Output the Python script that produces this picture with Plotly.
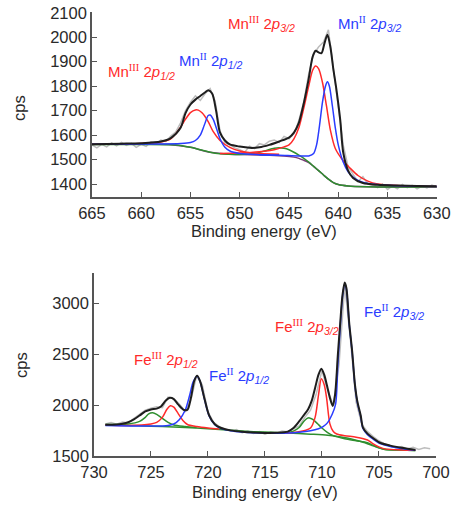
import plotly.graph_objects as go

# ---------------- Mn 2p region ----------------
mn_raw_e = [665, 664.5, 664, 663.5, 663, 662.5, 662, 661.5, 661, 660.5, 660, 659.5, 659, 658.5,
            658, 657.5, 657, 656.5, 656, 655.5, 655, 654.5, 654, 653.5, 653, 652.5, 652, 651.5,
            651, 650.5, 650, 649.5, 649, 648.5, 648, 647.5, 647, 646.5, 646, 645.5, 645, 644.5,
            644, 643.5, 643, 642.5, 642, 641.5, 641, 640.5, 640, 639.5, 639, 638.5, 638, 637.5,
            637, 636.5, 636, 635.5, 635, 634.5, 634, 633.5, 633, 632.5, 632, 631.5, 631, 630.5, 630]
mn_raw_cps = [1560, 1548, 1562, 1552, 1568, 1556, 1570, 1558, 1566, 1550, 1562, 1554, 1572, 1565,
              1580, 1574, 1596, 1612, 1650, 1700, 1735, 1760, 1742, 1770, 1790, 1740, 1618, 1570,
              1560, 1548, 1540, 1530, 1555, 1545, 1565, 1560, 1575, 1580, 1570, 1595, 1585, 1605,
              1660, 1735, 1850, 1930, 1960, 1980, 2030, 1870, 1720, 1560, 1470, 1440, 1410, 1430,
              1400, 1395, 1385, 1400, 1378, 1392, 1380, 1398, 1385, 1395, 1380, 1392, 1384, 1396, 1388]

mn_env_e = [665, 662, 660, 658, 657, 656, 655.5, 655, 654.5, 654, 653.5, 653.2, 652.8, 652.4,
            652, 651.5, 651, 650, 649, 648, 647, 646, 645, 644.5, 644, 643.5, 643, 642.6, 642.3,
            642, 641.7, 641.4, 641.1, 640.8, 640.5, 640.2, 639.8, 639.5, 639, 638.5, 637.5, 636,
            634, 632, 630]
mn_env_cps = [1563, 1565, 1567, 1574, 1588, 1630, 1690, 1725, 1745, 1760, 1775, 1783, 1770, 1700,
              1610, 1578, 1562, 1553, 1548, 1550, 1560, 1574, 1590, 1610, 1650, 1730, 1830, 1920, 1945,
              1938, 1935, 1975, 2010, 1960, 1870, 1790, 1662, 1530, 1455, 1425, 1404, 1397,
              1394, 1392, 1391]

mn3_12_e = [665, 660, 658, 657, 656.5, 656, 655.5, 655, 654.5, 654.2, 653.8, 653.2, 652.7, 652,
            651, 650, 649, 648, 646]
mn3_12_cps = [1563, 1566, 1572, 1585, 1605, 1632, 1665, 1692, 1703, 1702, 1690, 1655, 1615, 1578,
              1550, 1535, 1528, 1525, 1522]

mn3_32_e = [652, 650, 648, 646.5, 645.5, 645, 644.5, 644, 643.5, 643, 642.6, 642.3, 642, 641.6,
            641.2, 640.8, 640.3, 639.5, 638.8, 638, 637, 636, 634, 632, 630]
mn3_32_cps = [1525, 1527, 1532, 1540, 1552, 1560, 1585, 1630, 1710, 1800, 1865, 1882, 1872, 1815,
              1720, 1620, 1545, 1495, 1465, 1435, 1412, 1400, 1394, 1391, 1390]

mn2_12_e = [665, 658, 656, 655, 654.5, 654, 653.6, 653.2, 653, 652.7, 652.3, 652, 651.5, 651, 650,
            648, 646]
mn2_12_cps = [1563, 1564, 1566, 1570, 1578, 1600, 1640, 1680, 1682, 1665, 1620, 1585, 1550, 1535,
              1525, 1520, 1518]

mn2_32_e = [648, 646, 644, 643, 642.5, 642.2, 641.9, 641.6, 641.3, 641.1, 640.9, 640.6, 640.3, 640,
            639.5, 639, 638.5, 638, 637, 635, 632, 630]
mn2_32_cps = [1520, 1518, 1515, 1515, 1525, 1560, 1640, 1735, 1800, 1818, 1800, 1720, 1630, 1560,
              1490, 1450, 1428, 1415, 1402, 1395, 1391, 1390]

mn_sat_e = [665, 660, 657, 656, 655, 654, 653, 652, 650, 648.5, 647.5, 646.5, 646, 645.5, 645,
            644.5, 644, 643.5, 643, 642.5, 642, 641.5, 641, 640.5, 640, 639, 637, 634, 630]
mn_sat_cps = [1562, 1562, 1561, 1558, 1550, 1540, 1530, 1524, 1521, 1525, 1535, 1546, 1548, 1546,
              1540, 1530, 1518, 1505, 1490, 1472, 1455, 1437, 1420, 1406, 1398, 1392, 1389, 1388, 1388]

mn_bg_e = [665, 657, 655, 653, 651, 649, 647, 645.5, 644.5, 644, 643.5, 643, 642.5, 642, 641.5,
           641, 640.5, 640, 639, 637, 634, 630]
mn_bg_cps = [1562, 1561, 1550, 1530, 1522, 1520, 1518, 1515, 1510, 1505, 1497, 1488, 1472, 1455,
             1437, 1420, 1406, 1398, 1392, 1389, 1388, 1388]

# ---------------- Fe 2p region ----------------
fe_raw_e = [729, 728.5, 728, 727.5, 727, 726.5, 726, 725.5, 725, 724.5, 724, 723.5, 723, 722.5,
            722, 721.5, 721, 720.5, 720, 719.5, 719, 718.5, 718, 717.5, 717, 716.5, 716, 715.5,
            715, 714.5, 714, 713.5, 713, 712.5, 712, 711.5, 711, 710.5, 710, 709.5, 709, 708.5,
            708, 707.5, 707, 706.5, 706, 705.5, 705, 704.5, 704, 703.5, 703, 702.5, 702, 701.5,
            701, 700.5]
fe_raw_cps = [1815, 1830, 1812, 1835, 1828, 1870, 1905, 1950, 1970, 1985, 1975, 2080, 2065, 2010,
              1940, 2050, 2285, 2200, 1935, 1830, 1790, 1760, 1745, 1760, 1730, 1745, 1722, 1740,
              1715, 1738, 1725, 1745, 1738, 1770, 1795, 1880, 1950, 2110, 2340, 2150, 2000, 2400,
              3180, 2650, 2030, 1810, 1740, 1690, 1650, 1620, 1600, 1580, 1592, 1570, 1585, 1565,
              1580, 1572]

fe_env_e = [729, 728, 727.5, 727, 726.5, 726, 725.5, 725, 724.5, 724.1, 723.7, 723.35, 723.0,
            722.6, 722.1, 721.8, 721.5, 721.2, 720.95, 720.7, 720.3, 719.9, 719.4, 718.9, 718,
            717, 716, 715, 714, 713, 712.5, 712, 711.6, 711.2, 710.9, 710.6, 710.3, 710.05, 709.8,
            709.55, 709.3, 709.05, 708.85, 708.6, 708.4, 708.2, 708.0, 707.85, 707.6, 707.35, 707.1,
            706.9, 706.6, 706.4, 706.0, 705.5, 704.9, 704, 703, 702, 701.8]
fe_env_cps = [1808, 1810, 1818, 1832, 1860, 1898, 1938, 1958, 1966, 1990, 2045, 2072, 2060,
              2005, 1952, 1955, 2070, 2240, 2290, 2240, 2060, 1900, 1812, 1778, 1752,
              1738, 1730, 1727, 1728, 1740, 1775, 1840, 1900, 1963, 2042, 2170, 2300, 2358, 2300,
              2190, 2072, 1993, 2100, 2500, 2800, 3080, 3206, 3150, 2800, 2535, 2200,
              2042, 1900, 1780, 1720, 1675, 1630, 1602, 1580, 1563, 1560]

fe2_e = [729, 726, 724, 723.5, 723, 722.5, 722.0, 721.6, 721.3, 720.95, 720.7, 720.3, 719.9, 719.4,
         718.9, 718, 717, 716, 715, 714, 713, 712, 711, 710.3, 709.9, 709.5, 709.1, 708.8, 708.6,
         708.4, 708.2, 708.0, 707.85, 707.6, 707.35, 707.1, 706.9, 706.6, 706.4, 706.0, 705.5,
         704.9, 704, 703, 702, 701.8]
fe2_cps = [1800, 1795, 1796, 1800, 1815, 1860, 1950, 2100, 2230, 2285, 2235, 2055, 1895, 1808,
           1772, 1748, 1735, 1728, 1725, 1724, 1726, 1733, 1748, 1768, 1788, 1828, 1910, 2010, 2400,
           2760, 3060, 3195, 3140, 2790, 2525, 2190, 2030, 1890, 1770, 1710, 1665,
           1622, 1594, 1574, 1558, 1556]

fe3_12_e = [729, 727, 725, 724.5, 724, 723.6, 723.3, 723.0, 722.6, 722.2, 721.8, 721, 720, 719]
fe3_12_cps = [1805, 1800, 1815, 1830, 1880, 1960, 1995, 1980, 1915, 1850, 1810, 1790, 1775, 1765]

fe3_32_e = [714, 712.5, 711.5, 711, 710.6, 710.3, 710.05, 709.8, 709.6, 709.3, 709.0, 708.7, 708,
            707, 706, 705.5, 705, 704.5, 703, 701.8]
fe3_32_cps = [1726, 1732, 1750, 1775, 1880, 2100, 2259, 2200, 2080, 1816, 1740, 1717, 1700,
              1685, 1658, 1620, 1590, 1570, 1560, 1556]

fe_sat_a_e = [729, 727, 726, 725.5, 725.2, 724.85, 724.5, 724, 723.5, 723, 722, 721]
fe_sat_a_cps = [1810, 1815, 1840, 1880, 1915, 1925, 1910, 1870, 1830, 1805, 1790, 1780]

fe_sat_b_e = [714, 713, 712.5, 712, 711.6, 711.3, 711.1, 710.8, 710.4, 710, 709.5, 709, 708, 707,
              706, 705.5, 705, 704.5, 703, 701.8]
fe_sat_b_cps = [1725, 1730, 1745, 1780, 1840, 1870, 1875, 1860, 1820, 1775, 1730, 1700, 1670,
                1650, 1630, 1605, 1580, 1565, 1558, 1555]

fe_bg_e = [729, 727, 725, 723, 721, 719, 717, 715, 713, 711, 709.5, 708.5, 707.5, 706.5, 705.5,
           705, 704.5, 703, 701.8]
fe_bg_cps = [1805, 1800, 1793, 1785, 1775, 1760, 1745, 1735, 1725, 1715, 1705, 1690, 1670, 1640,
             1600, 1580, 1566, 1558, 1555]

GRAY = "#bdbdbd"
RED = "#ff2a2a"
BLUE = "#2a3cff"
GREEN = "#2f8f2f"
PURPLE = "#7a3a78"
BLACK = "#1e1e1e"

fig = go.Figure()


def add(e, c, color, width, ax, spline=True):
    fig.add_trace(go.Scatter(
        x=e, y=c, mode="lines",
        line=dict(color=color, width=width, shape="spline" if spline else "linear", smoothing=0.8),
        xaxis=ax[0], yaxis=ax[1], hoverinfo="skip", showlegend=False))


top = ("x", "y")
bot = ("x2", "y2")

add(mn_raw_e, mn_raw_cps, GRAY, 1.5, top, spline=False)
add(mn_bg_e, mn_bg_cps, PURPLE, 1.5, top)
add(mn_sat_e, mn_sat_cps, GREEN, 1.5, top)
add(mn3_12_e, mn3_12_cps, RED, 1.5, top)
add(mn3_32_e, mn3_32_cps, RED, 1.5, top)
add(mn2_12_e, mn2_12_cps, BLUE, 1.5, top)
add(mn2_32_e, mn2_32_cps, BLUE, 1.5, top)
add(mn_env_e, mn_env_cps, BLACK, 2, top)

add(fe_raw_e, fe_raw_cps, GRAY, 1.5, bot, spline=False)
add(fe_bg_e, fe_bg_cps, GREEN, 1.5, bot)
add(fe_sat_a_e, fe_sat_a_cps, GREEN, 1.5, bot)
add(fe_sat_b_e, fe_sat_b_cps, GREEN, 1.5, bot)
add(fe3_12_e, fe3_12_cps, RED, 1.5, bot)
add(fe3_32_e, fe3_32_cps, RED, 1.5, bot)
add(fe2_e, fe2_cps, BLUE, 1.5, bot)
add(fe_env_e, fe_env_cps, BLACK, 2, bot)

FONT = "Liberation Sans, Arial, sans-serif"
AXC = "#555555"
TXT = "#2a2a2a"

axis_common = dict(showline=True, linecolor=AXC, linewidth=1.5, ticks="inside", ticklen=5,
                   tickwidth=1.2, tickcolor=AXC, showgrid=False, zeroline=False, automargin=False,
                   tickfont=dict(family=FONT, size=16.5, color=TXT))

fig.update_layout(
    width=455, height=507,
    margin=dict(l=0, r=0, t=0, b=0, autoexpand=False),
    paper_bgcolor="white", plot_bgcolor="white",
    xaxis=dict(domain=[0.202, 0.960], range=[665, 630], tickvals=[665, 660, 655, 650, 645, 640, 635, 630],
               anchor="y", **axis_common),
    yaxis=dict(domain=[0.6114, 0.9763], range=[1347, 2103],
               tickvals=[1400, 1500, 1600, 1700, 1800, 1900, 2000, 2100], anchor="x", **axis_common),
    xaxis2=dict(domain=[0.2066, 0.958], range=[730, 700], tickvals=[730, 725, 720, 715, 710, 705, 700],
                anchor="y2", **axis_common),
    yaxis2=dict(domain=[0.1006, 0.4615], range=[1500, 3300], tickvals=[1500, 2000, 2500, 3000],
                anchor="x2", **axis_common),
)

# axis titles
for text, x, y, ang in [("cps", 19 / 455, 1 - 108 / 507, -90),
                        ("cps", 21 / 455, 1 - 365 / 507, -90),
                        ("Binding energy (eV)", 264 / 455, 1 - 231 / 507, 0),
                        ("Binding energy (eV)", 265 / 455, 1 - 492 / 507, 0)]:
    fig.add_annotation(x=x, y=y, xref="paper", yref="paper", text=text, showarrow=False,
                       textangle=ang, xanchor="center", yanchor="middle",
                       font=dict(family=FONT, size=16.5, color=TXT))

ROMAN = "<span style=\"font-family:'Liberation Serif',serif\">{}</span>"


def label(el, ox, orb, color, x, y, ax):
    txt = f"{el}<sup>{ROMAN.format(ox)}</sup> 2<i>p</i><sub><i>{orb}</i></sub>"
    fig.add_annotation(x=x, y=y, xref=ax[0], yref=ax[1], text=txt, showarrow=False,
                       font=dict(family=FONT, size=15, color=color), xanchor="center", yanchor="middle")


label("Mn", "III", "1/2", RED, 660.0, 1859, top)
label("Mn", "II", "1/2", BLUE, 653.0, 1904, top)
label("Mn", "III", "3/2", RED, 647.8, 2052, top)
label("Mn", "II", "3/2", BLUE, 636.8, 2056, top)

label("Fe", "III", "1/2", RED, 723.7, 2447, bot)
label("Fe", "II", "1/2", BLUE, 717.3, 2289, bot)
label("Fe", "III", "3/2", RED, 711.3, 2772, bot)
label("Fe", "II", "3/2", BLUE, 703.7, 2920, bot)

fig.write_html("out.html")
